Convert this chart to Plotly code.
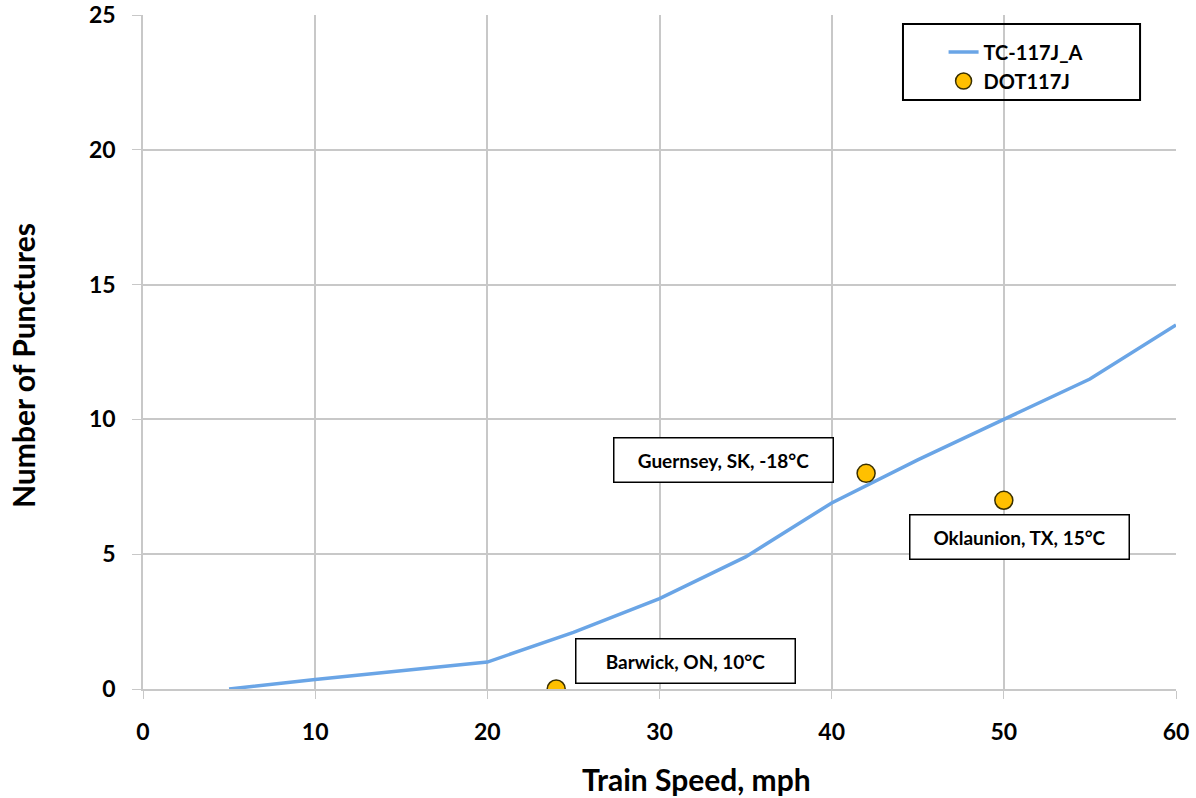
import plotly.graph_objects as go

line_x = [5, 10, 20, 25, 30, 35, 40, 45, 50, 55, 60]
line_y = [0, 0.35, 1.0, 2.1, 3.35, 4.9, 6.9, 8.5, 10.0, 11.5, 13.5]

pts_x = [24, 42, 50]
pts_y = [0, 8, 7]

ann_text = ["Barwick, ON, 10°C", "Guernsey, SK, -18°C", "Oklaunion, TX, 15°C"]
ann_x = [31.5, 33.7, 50.9]
ann_y = [1.04, 8.5, 5.64]

x_title = "Train Speed, mph"
y_title = "Number of Punctures"

FONT = "Lato"
GRID = "#c8c8c8"

fig = go.Figure()
fig.add_trace(go.Scatter(x=line_x, y=line_y, mode="lines", name="TC-117J_A",
                         line=dict(color="#6aa5e6", width=3.5)))
fig.add_trace(go.Scatter(x=pts_x, y=pts_y, mode="markers", name="DOT117J",
                         marker=dict(color="#ffc000", size=18,
                                     line=dict(color="#3a3000", width=1.5))))

for t, x, y in zip(ann_text, ann_x, ann_y):
    fig.add_annotation(x=x, y=y, text=t, showarrow=False,
                       font=dict(family=FONT, size=19, color="black", weight="bold"),
                       bordercolor="black", borderwidth=1.5, borderpad=10,
                       bgcolor="white", width=198)

# axis titles
fig.add_annotation(xref="paper", yref="paper", x=0.536, y=-0.1335,
                   xanchor="center", yanchor="middle", showarrow=False,
                   text=x_title, font=dict(family=FONT, size=30, weight="bold", color="black"))
fig.add_annotation(xref="paper", yref="paper", x=-0.1162, y=0.4807,
                   xanchor="center", yanchor="middle", showarrow=False, textangle=-90,
                   text=y_title, font=dict(family=FONT, size=30, weight="bold", color="black"))

# legend frame
fig.add_shape(type="rect", xref="paper", yref="paper",
              x0=0.7357, x1=0.9652, y0=0.8739, y1=0.9866,
              line=dict(color="black", width=2), fillcolor="rgba(0,0,0,0)")

fig.update_layout(
    width=1196, height=798,
    margin=dict(l=143, r=20, t=15, b=109),
    plot_bgcolor="white", paper_bgcolor="white",
    font=dict(family=FONT, color="black"),
    showlegend=True,
    legend=dict(x=0.775, y=0.974, xanchor="left", yanchor="top",
                borderwidth=0, bgcolor="rgba(0,0,0,0)",
                font=dict(family=FONT, size=20, weight="bold"),
                itemwidth=30, tracegroupgap=0),
    xaxis=dict(range=[0, 60], dtick=10, showgrid=True, gridcolor=GRID, gridwidth=1.5,
               showline=True, linecolor=GRID, linewidth=1.5, zeroline=False,
               automargin=False,
               ticks="outside", ticklen=8, tickcolor=GRID, ticklabelstandoff=14,
               tickfont=dict(family=FONT, size=23, weight="bold")),
    yaxis=dict(range=[0, 25], dtick=5, showgrid=True, gridcolor=GRID, gridwidth=1.5,
               showline=True, linecolor=GRID, linewidth=1.5, zeroline=False,
               automargin=False,
               ticks="outside", ticklen=9, tickcolor=GRID, ticklabelstandoff=12,
               tickfont=dict(family=FONT, size=23, weight="bold")),
)

fig.write_html("out.html")
